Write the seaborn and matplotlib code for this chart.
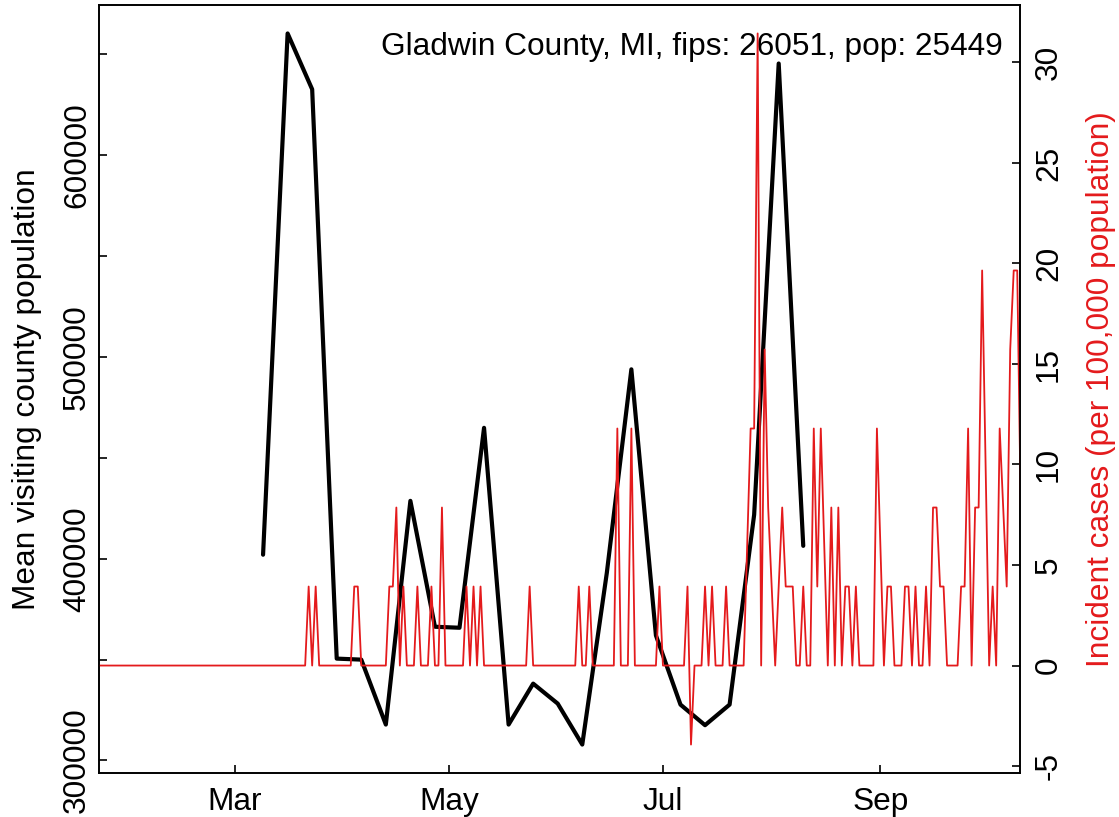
import numpy as np
import pandas as pd
import matplotlib
matplotlib.use("Agg")
import matplotlib.pyplot as plt
import seaborn as sns

# ---------------- data ----------------
title_text = "Gladwin County, MI, fips: 26051, pop: 25449"
left_label = "Mean visiting county population"
right_label = "Incident cases (per 100,000 population)"

visit_dates = pd.date_range("2020-03-09", periods=23, freq="7D")
visit_values = [402000, 660400, 632700, 350500, 350000, 317800, 428700, 366300,
                365800, 464900, 317800, 338100, 328200, 307900, 393000, 493900,
                362000, 327700, 317500, 327700, 421800, 645500, 406400]

case_dates = pd.date_range("2020-01-22", "2020-10-11", freq="D")
case_values = [
    0, 0, 0, 0, 0, 0, 0, 0, 0, 0,
    0, 0, 0, 0, 0, 0, 0, 0, 0, 0,
    0, 0, 0, 0, 0, 0, 0, 0, 0, 0,
    0, 0, 0, 0, 0, 0, 0, 0, 0, 0,
    0, 0, 0, 0, 0, 0, 0, 0, 0, 0,
    0, 0, 0, 0, 0, 0, 0, 0, 0, 0,
    3.93, 0, 3.93, 0, 0, 0, 0, 0, 0, 0,
    0, 0, 0, 3.93, 3.93, 0, 0, 0, 0, 0,
    0, 0, 0, 3.93, 3.93, 7.86, 0, 3.93, 0, 0,
    0, 3.93, 0, 0, 0, 3.93, 0, 0, 7.86, 0,
    0, 0, 0, 0, 0, 3.93, 0, 3.93, 0, 3.93,
    0, 0, 0, 0, 0, 0, 0, 0, 0, 0,
    0, 0, 0, 3.93, 0, 0, 0, 0, 0, 0,
    0, 0, 0, 0, 0, 0, 0, 3.93, 0, 0,
    3.93, 0, 0, 0, 0, 0, 0, 0, 11.79, 0,
    0, 0, 11.79, 0, 0, 0, 0, 0, 0, 0,
    3.93, 0, 0, 0, 0, 0, 0, 0, 3.93, -3.93,
    0, 0, 0, 3.93, 0, 3.93, 0, 0, 0, 3.93,
    0, 0, 0, 0, 0, 5.89, 11.79, 11.79, 31.44, 0,
    15.72, 7.86, 3.93, 0, 3.93, 7.86, 3.93, 3.93, 3.93, 0,
    0, 3.93, 0, 0, 11.79, 3.93, 11.79, 5.89, 0, 7.86,
    0, 7.86, 0, 3.93, 3.93, 0, 3.93, 0, 0, 0,
    0, 0, 11.79, 5.89, 0, 3.93, 3.93, 0, 0, 0,
    3.93, 3.93, 0, 3.93, 0, 0, 3.93, 0, 7.86, 7.86,
    3.93, 3.93, 0, 0, 0, 0, 3.93, 3.93, 11.79, 0,
    7.86, 7.86, 19.65, 9.82, 0, 3.93, 0, 11.79, 7.86, 3.93,
    15.72, 19.65, 19.65, 7.86,
]

x_tick_dates = pd.to_datetime(["2020-03-01", "2020-05-01", "2020-07-01", "2020-09-01"])
x_tick_labels = ["Mar", "May", "Jul", "Sep"]
left_ticks = [300000, 350000, 400000, 450000, 500000, 550000, 600000, 650000]
left_tick_labels = ["300000", "", "400000", "", "500000", "", "600000", ""]
right_ticks = [-5, 0, 5, 10, 15, 20, 25, 30]
right_tick_labels = ["-5", "0", "5", "10", "15", "20", "25", "30"]

# ---------------- style ----------------
sns.set_theme(style="white")
plt.rcParams["font.family"] = ["Liberation Sans", "DejaVu Sans"]
FS = 22.8
RED = "#E41A1C"

fig = plt.figure(figsize=(11.19, 8.17), dpi=100)
ax = fig.add_axes([99 / 1119, 44 / 817, 921 / 1119, 768 / 817])
ax2 = ax.twinx()

sns.lineplot(x=visit_dates, y=visit_values, ax=ax, color="black",
             linewidth=3.0, solid_capstyle="round", solid_joinstyle="round")
sns.lineplot(x=case_dates, y=case_values, ax=ax2, color=RED, linewidth=1.3)

# R-style 4% range padding
lo, hi = min(visit_values), max(visit_values)
pad = 0.04 * (hi - lo)
ax.set_ylim(lo - pad, hi + pad)
lo2, hi2 = min(case_values), max(case_values)
pad2 = 0.04 * (hi2 - lo2)
ax2.set_ylim(lo2 - pad2, hi2 + pad2)

ax.set_xlim(pd.Timestamp("2020-01-22 05:30"), pd.Timestamp("2020-10-10 19:00"))

ax.set_xticks(x_tick_dates)
ax.set_xticklabels(x_tick_labels, fontsize=FS)
ax.set_yticks(left_ticks)
ax.set_yticklabels(left_tick_labels, rotation=90, va="center", fontsize=FS)
ax2.set_yticks(right_ticks)
ax2.set_yticklabels(right_tick_labels, rotation=90, va="center", ha="left", fontsize=FS)

ax.tick_params(axis="x", direction="in", length=6, width=1.2, pad=10,
               bottom=True, top=False, colors="black")
ax.tick_params(axis="y", direction="in", length=6, width=1.2, pad=5,
               left=True, right=False, colors="black")
ax2.tick_params(axis="y", direction="in", length=6, width=1.2, pad=10,
                left=False, right=True, colors="black")

for a in (ax, ax2):
    a.set_xlabel("")
    a.set_ylabel("")
    a.grid(False)
    for s in a.spines.values():
        s.set_visible(True)
        s.set_color("black")
        s.set_linewidth(1.2)

ax.text(0.9815, 0.935, title_text, transform=ax.transAxes, ha="right",
        va="baseline", fontsize=FS, color="black")

fig.text(27 / 1119, 1 - 389 / 817, left_label, rotation=90, ha="center",
         va="center", fontsize=FS, color="black")
fig.text(1101 / 1119, 1 - 389 / 817, right_label, rotation=90, ha="center",
         va="center", fontsize=FS, color=RED)

fig.savefig("out.png", dpi=100)
